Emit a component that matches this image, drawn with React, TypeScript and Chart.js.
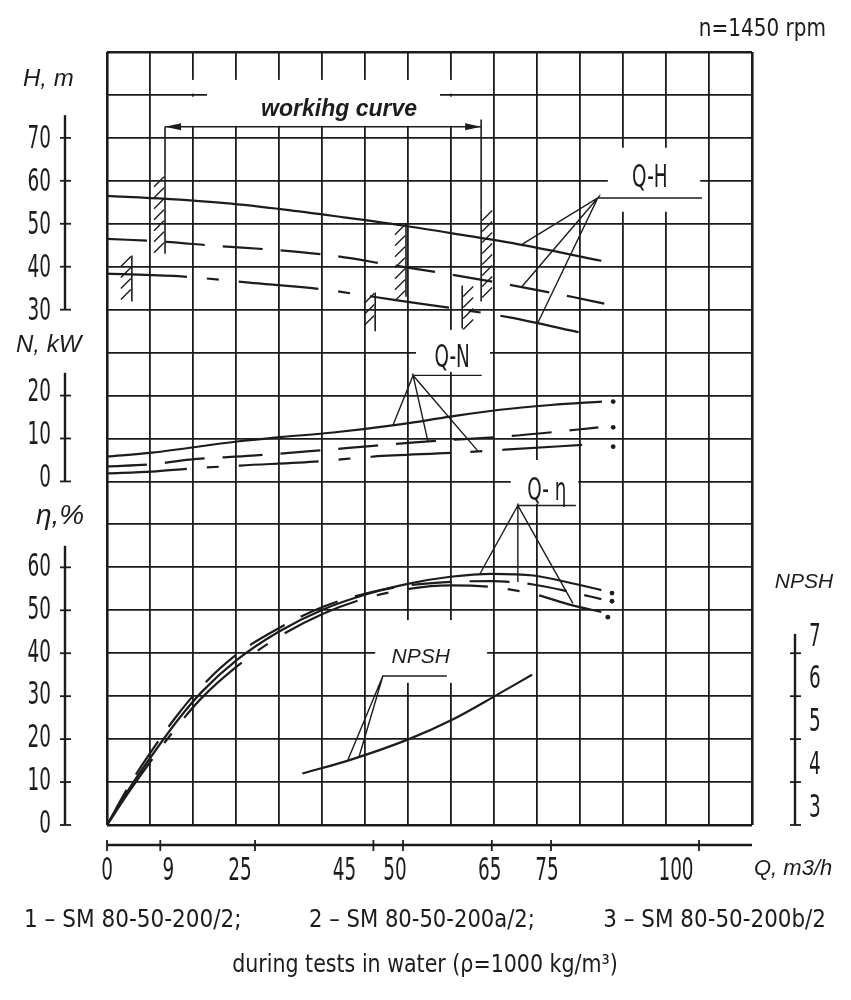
import { useEffect, useRef } from 'react'
import { Chart, registerables } from 'chart.js'

Chart.register(...registerables)

// drawing sheet: 15 x 18 grid cells, Q runs 0..108.95 m3/h across the grid
const Q_MAX = 108.95
const COLS = 15
const ROWS = 18

// Q-H, m   (1 solid, 2 dashed, 3 dash-dot)
const QH1 = [0, 10, 20, 30, 40, 50, 60, 70, 83.5]
const H1 = [56.5, 55.8, 54.8, 53.3, 51.5, 49.6, 47.4, 45.1, 41.4]
const QH2 = [0, 10, 18, 27.5, 38, 48, 58, 68, 78.5, 84]
const H2 = [46.5, 45.8, 44.9, 44.0, 42.6, 40.4, 38.2, 35.8, 33.0, 31.4]
const QH3 = [0, 12, 24, 36, 45, 52, 60, 68, 80.5]
const H3 = [38.4, 37.8, 36.3, 34.8, 33.0, 31.6, 30.0, 28.2, 24.5]

// Q-N, kW
const QN1 = [0, 7.6, 22, 29.2, 38.2, 49.5, 58, 66.4, 75, 83.6]
const N1 = [5.8, 6.7, 9.3, 10.3, 11.4, 13.3, 15.1, 16.7, 17.8, 18.6]
const QN2 = [0, 7.6, 14, 24.5, 34.8, 45, 52, 69.3, 79.6, 83]
const N2 = [3.5, 4.0, 5.1, 6.0, 7.1, 8.3, 9.1, 10.7, 12.1, 12.6]
const QN3 = [0, 7.6, 14, 22.5, 36, 45, 58.8, 67.2, 81.3]
const N3 = [1.9, 2.3, 3.0, 3.7, 4.7, 5.8, 6.7, 7.4, 8.6]

// Q-eta, %
const QE = [0, 4, 8, 12, 16, 22, 29, 36.5, 44, 51, 58, 65, 72, 78.5, 83.5]
const E1 = [0, 9, 17, 24.5, 31, 38.5, 45, 50.2, 53.8, 56.2, 57.8, 58.5, 58.1, 56.3, 54.7]
const E2 = [0, 9.8, 18.2, 25.8, 32.3, 39.8, 45.8, 50.8, 54, 55.8, 56.6, 56.8, 56, 54.2, 52.6]
const E3 = [0, 8.3, 16, 23.2, 29.6, 37, 43.8, 49.2, 52.9, 55, 55.8, 55.4, 53.8, 51.2, 49.6]

// NPSH, m
const QP = [33, 40.7, 51, 58.3, 65.5, 71.8]
const P = [4.2, 4.5, 5.0, 5.45, 6.0, 6.5]

// curve number marks at the right ends
const DOT_N_Q = [85.5, 85.5, 85.5]
const DOT_N = [18.6, 12.6, 8.1]
const DOT_E_Q = [85.3, 85.3, 84.6]
const DOT_E = [54, 52.1, 48.4]

// leader lines: curve -> shelf -> curve ... -> end of shelf
const QH_LEAD_Q = [70.1, 82.9, 70.1, 82.9, 72.8, 82.9, 100.5]
const QH_LEAD_H = [45.2, 56.0, 35.4, 56.0, 27.0, 56.0, 56.0]
const QN_LEAD_Q = [48.3, 51.7, 54.2, 51.7, 62.7, 51.7, 63.3]
const QN_LEAD_N = [13.1, 24.7, 9.4, 24.7, 7.0, 24.7, 24.7]
const QE_LEAD_Q = [63, 69.4, 69.4, 69.4, 78.7, 69.4, 79.2]
const QE_LEAD_E = [58.5, 74.4, 56.6, 74.4, 51.6, 74.4, 74.4]
const NP_LEAD_Q = [40.7, 46.6, 42.6, 46.6, 57.4]
const NP_LEAD_P = [4.52, 6.47, 4.6, 6.47, 6.47]

// working range limits (hatched), in Q and H
const HATCH_Q = [9.8, 4.2, 50.5, 45.3, 63.2, 60]
const HATCH_TOP = [61.2, 42.6, 50.0, 34.0, 53.3, 35.6]
const HATCH_BOTTOM = [43.0, 31.9, 33.0, 25.0, 31.9, 25.6]
const HATCH_SIDE = [-1, -1, -1, -1, 1, 1]
const ARROW_Q = [9.8, 63.2]
const ARROW_H = 72.6
const EXT_TOP = [72.6, 74.3]
const EXT_BOTTOM = [61.2, 53.3]

// axis rulers
const H_TICKS = [30, 40, 50, 60, 70]
const N_TICKS = [0, 10, 20]
const ETA_TICKS = [0, 10, 20, 30, 40, 50, 60]
const NPSH_TICKS = [3, 4, 5, 6, 7]
const Q_TICKS = [0, 9, 25, 45, 50, 65, 75, 100]
// hand lettering under the Q ruler is not centred on its ticks (px shift)
const Q_LABEL_DX = [0, 8, -15, -29, -8, -2, -4, -23]

// white patches behind the labels, [q0, q1, row0, row1]
const MASKS = [
  [13.7, 60.0, 17.03, 17.35],
  [16.9, 56.25, 16.9, 17.1],
  [13.7, 60.0, 16.28, 16.96],
  [84.6, 100.2, 14.28, 15.77],
  [52.2, 64.7, 10.55, 11.53],
  [68.2, 79.6, 7.48, 8.5],
  [45.3, 64.2, 3.31, 4.77],
]

const INK = '#1c1c1c'
const NARROW = '"Liberation Sans Narrow", "DejaVu Sans Condensed", "Arial Narrow", sans-serif'
const SANS = '"Liberation Sans", Arial, sans-serif'
const TICK_FONT = `32px ${NARROW}`
const TICK_SX = 0.64
const NOTE_FONT = `25px ${NARROW}`
const DASH2 = [40, 18]
const DASH3 = [80, 20, 12, 20]

const pts = (xs: number[], ys: number[]) => xs.map((x, i) => ({ x, y: ys[i] }))

const curve = (xs: number[], ys: number[], axis: string, dash: number[] = []) => ({
  data: pts(xs, ys),
  yAxisID: axis,
  showLine: true,
  borderColor: INK,
  borderWidth: 2.2,
  borderDash: dash,
  pointRadius: 0,
  cubicInterpolationMode: 'monotone' as const,
})

const leader = (xs: number[], ys: number[], axis: string) => ({
  data: pts(xs, ys),
  yAxisID: axis,
  showLine: true,
  borderColor: INK,
  borderWidth: 1.4,
  pointRadius: 0,
  tension: 0,
})

const dots = (xs: number[], ys: number[], axis: string) => ({
  data: pts(xs, ys),
  yAxisID: axis,
  showLine: false,
  pointRadius: 2.4,
  pointBackgroundColor: INK,
  pointBorderWidth: 0,
})

type Ctx = CanvasRenderingContext2D

function text(ctx: Ctx, s: string, x: number, y: number, font: string, align: CanvasTextAlign = 'center', sx = 1) {
  ctx.save()
  ctx.font = font
  ctx.fillStyle = INK
  ctx.textAlign = align
  ctx.textBaseline = 'middle'
  ctx.translate(x, y)
  ctx.scale(sx, 1)
  ctx.fillText(s, 0, 0)
  ctx.restore()
}

function seg(ctx: Ctx, x0: number, y0: number, x1: number, y1: number, w = 1.5) {
  ctx.beginPath()
  ctx.lineWidth = w
  ctx.moveTo(x0, y0)
  ctx.lineTo(x1, y1)
  ctx.stroke()
}

function ruler(ctx: Ctx, scale: any, ticks: number[], top: number, rx: number, side: number, dy: number) {
  const pTop = scale.getPixelForValue(top)
  const pBot = scale.getPixelForValue(ticks[0])
  seg(ctx, rx, pTop, rx, pBot, 2.4)
  ticks.forEach(t => {
    const py = scale.getPixelForValue(t)
    seg(ctx, rx - 5, py, rx + 6, py, 1.8)
    text(ctx, String(t), rx + side * 14, py + dy, TICK_FONT, side < 0 ? 'right' : 'left', TICK_SX)
  })
}

const drawing = {
  id: 'drawing',
  beforeDatasetsDraw(chart: any) {
    const { ctx, scales: { x, y } } = chart
    ctx.save()
    ctx.fillStyle = '#fff'
    MASKS.forEach(([q0, q1, r0, r1]) => {
      const px0 = x.getPixelForValue(q0)
      const px1 = x.getPixelForValue(q1)
      const py0 = y.getPixelForValue(r1)
      const py1 = y.getPixelForValue(r0)
      ctx.fillRect(px0, py0, px1 - px0, py1 - py0)
    })
    ctx.restore()
  },
  afterDatasetsDraw(chart: any) {
    const { ctx, chartArea: area, scales: { x, yH, yN, yE, yP } } = chart
    ctx.save()
    ctx.strokeStyle = INK
    ctx.fillStyle = INK
    ctx.lineCap = 'butt'

    // hatched limits of the working range
    HATCH_Q.forEach((q, i) => {
      const px = x.getPixelForValue(q)
      const top = yH.getPixelForValue(HATCH_TOP[i])
      const bot = yH.getPixelForValue(HATCH_BOTTOM[i])
      seg(ctx, px, top, px, bot, 1.6)
      for (let yy = top + 6; yy <= bot; yy += 11) {
        if (HATCH_SIDE[i] < 0) seg(ctx, px - 11, yy + 5, px - 1, yy - 5, 1.4)
        else seg(ctx, px + 1, yy + 5, px + 11, yy - 5, 1.4)
      }
    })

    // working range dimension line
    const ay = yH.getPixelForValue(ARROW_H)
    const ax0 = x.getPixelForValue(ARROW_Q[0])
    const ax1 = x.getPixelForValue(ARROW_Q[1])
    seg(ctx, ax0, ay, ax1, ay, 1.5)
    ARROW_Q.forEach((q, i) => {
      const px = x.getPixelForValue(q)
      seg(ctx, px, yH.getPixelForValue(EXT_TOP[i]), px, yH.getPixelForValue(EXT_BOTTOM[i]), 1.6)
    })
    ctx.beginPath()
    ctx.moveTo(ax0, ay)
    ctx.lineTo(ax0 + 16, ay - 3.5)
    ctx.lineTo(ax0 + 16, ay + 3.5)
    ctx.closePath()
    ctx.moveTo(ax1, ay)
    ctx.lineTo(ax1 - 16, ay - 3.5)
    ctx.lineTo(ax1 - 16, ay + 3.5)
    ctx.closePath()
    ctx.fill()

    // rulers
    const lx = area.left - 42
    ruler(ctx, yH, H_TICKS, 75.3, lx, -1, 2)
    ruler(ctx, yN, N_TICKS, 25.3, lx, -1, -3)
    ruler(ctx, yE, ETA_TICKS, 65, lx, -1, 0)
    ruler(ctx, yP, NPSH_TICKS, 7.45, area.right + 43, 1, -16)

    const qy = area.bottom + 20
    seg(ctx, x.getPixelForValue(0), qy, x.getPixelForValue(Q_MAX), qy, 2.4)
    Q_TICKS.forEach((q, i) => {
      const px = x.getPixelForValue(q)
      seg(ctx, px, qy - 5, px, qy + 6, 1.8)
      text(ctx, String(q), px + Q_LABEL_DX[i], qy + 27, TICK_FONT, 'center', TICK_SX)
    })

    // axis titles
    text(ctx, 'H, m', 23, 79, `italic 24px ${SANS}`, 'left')
    text(ctx, 'N, kW', 16, 345, `italic 24px ${SANS}`, 'left')
    text(ctx, 'η,%', 36, 516, `italic 28px ${SANS}`, 'left')
    text(ctx, 'NPSH', area.right + 52, 582, `italic 21px ${SANS}`, 'center')
    text(ctx, 'Q, m3/h', area.right + 2, 869, `italic 22px ${SANS}`, 'left')

    // curve labels
    text(ctx, 'workihg curve', x.getPixelForValue(39.2), yH.getPixelForValue(76.5), `italic bold 23px ${SANS}`)
    text(ctx, 'Q-H', x.getPixelForValue(91.7), yH.getPixelForValue(60.6), TICK_FONT, 'center', TICK_SX)
    text(ctx, 'Q-N', x.getPixelForValue(58.3), yN.getPixelForValue(28.6), TICK_FONT, 'center', TICK_SX)
    text(ctx, 'Q- η', x.getPixelForValue(74.3), yE.getPixelForValue(77.7), TICK_FONT, 'center', TICK_SX)
    text(ctx, 'NPSH', x.getPixelForValue(53), yP.getPixelForValue(6.9), `italic 21px ${SANS}`)

    // header and notes
    text(ctx, 'n=1450 rpm', 826, 29, NOTE_FONT, 'right', 0.89)
    text(ctx, '1 – SM 80-50-200/2;', 24, 920, NOTE_FONT, 'left', 0.96)
    text(ctx, '2 – SM 80-50-200a/2;', 422, 920, NOTE_FONT, 'center', 0.94)
    text(ctx, '3 – SM 80-50-200b/2', 826, 920, NOTE_FONT, 'right', 0.955)
    text(ctx, 'during tests in water (ρ=1000 kg/m³)', 425, 965, NOTE_FONT, 'center', 0.915)
    ctx.restore()
  },
}

const gridWidth = (last: number) => (c: any) => (c.index === 0 || c.index === last ? 2.6 : 1.8)

export default function App() {
  const canvasRef = useRef<HTMLCanvasElement>(null)

  useEffect(() => {
    document.body.style.margin = '0'
    const canvas = canvasRef.current
    if (!canvas) return

    const chart = new Chart(canvas, {
      type: 'scatter',
      data: {
        datasets: [
          curve(QH1, H1, 'yH'),
          curve(QH2, H2, 'yH', DASH2),
          curve(QH3, H3, 'yH', DASH3),
          curve(QN1, N1, 'yN'),
          curve(QN2, N2, 'yN', DASH2),
          curve(QN3, N3, 'yN', DASH3),
          curve(QE, E1, 'yE'),
          curve(QE, E2, 'yE', DASH2),
          curve(QE, E3, 'yE', DASH3),
          curve(QP, P, 'yP'),
          leader(QH_LEAD_Q, QH_LEAD_H, 'yH'),
          leader(QN_LEAD_Q, QN_LEAD_N, 'yN'),
          leader(QE_LEAD_Q, QE_LEAD_E, 'yE'),
          leader(NP_LEAD_Q, NP_LEAD_P, 'yP'),
          dots(DOT_N_Q, DOT_N, 'yN'),
          dots(DOT_E_Q, DOT_E, 'yE'),
        ] as any,
      },
      options: {
        responsive: false,
        animation: false,
        layout: { padding: { left: 107, top: 52, right: 99, bottom: 175 } },
        plugins: {
          legend: { display: false },
          tooltip: { enabled: false },
        },
        scales: {
          x: {
            type: 'linear',
            min: 0,
            max: Q_MAX,
            afterBuildTicks: (s: any) => {
              s.ticks = Array.from({ length: COLS + 1 }, (_, i) => ({ value: (i * Q_MAX) / COLS }))
            },
            afterFit: (s: any) => { s.height = 0 },
            ticks: { display: false },
            grid: { color: INK, lineWidth: gridWidth(COLS), drawTicks: false },
            border: { display: false },
          },
          y: {
            type: 'linear',
            min: 0,
            max: ROWS,
            afterBuildTicks: (s: any) => {
              s.ticks = Array.from({ length: ROWS + 1 }, (_, i) => ({ value: i }))
            },
            afterFit: (s: any) => { s.width = 0 },
            ticks: { display: false },
            grid: { color: INK, lineWidth: gridWidth(ROWS), drawTicks: false },
            border: { display: false },
          },
          // each physical quantity gets 10 units per grid row
          yH: { type: 'linear', display: false, min: -90, max: 90 },
          yN: { type: 'linear', display: false, min: -80, max: 100 },
          yE: { type: 'linear', display: false, min: 0, max: 180 },
          yP: { type: 'linear', display: false, min: 3, max: 21 },
        },
      } as any,
      plugins: [drawing],
    })

    return () => chart.destroy()
  }, [])

  return (
    <canvas
      ref={canvasRef}
      width={851}
      height={1000}
      style={{ display: 'block', width: 851, height: 1000 }}
    />
  )
}
